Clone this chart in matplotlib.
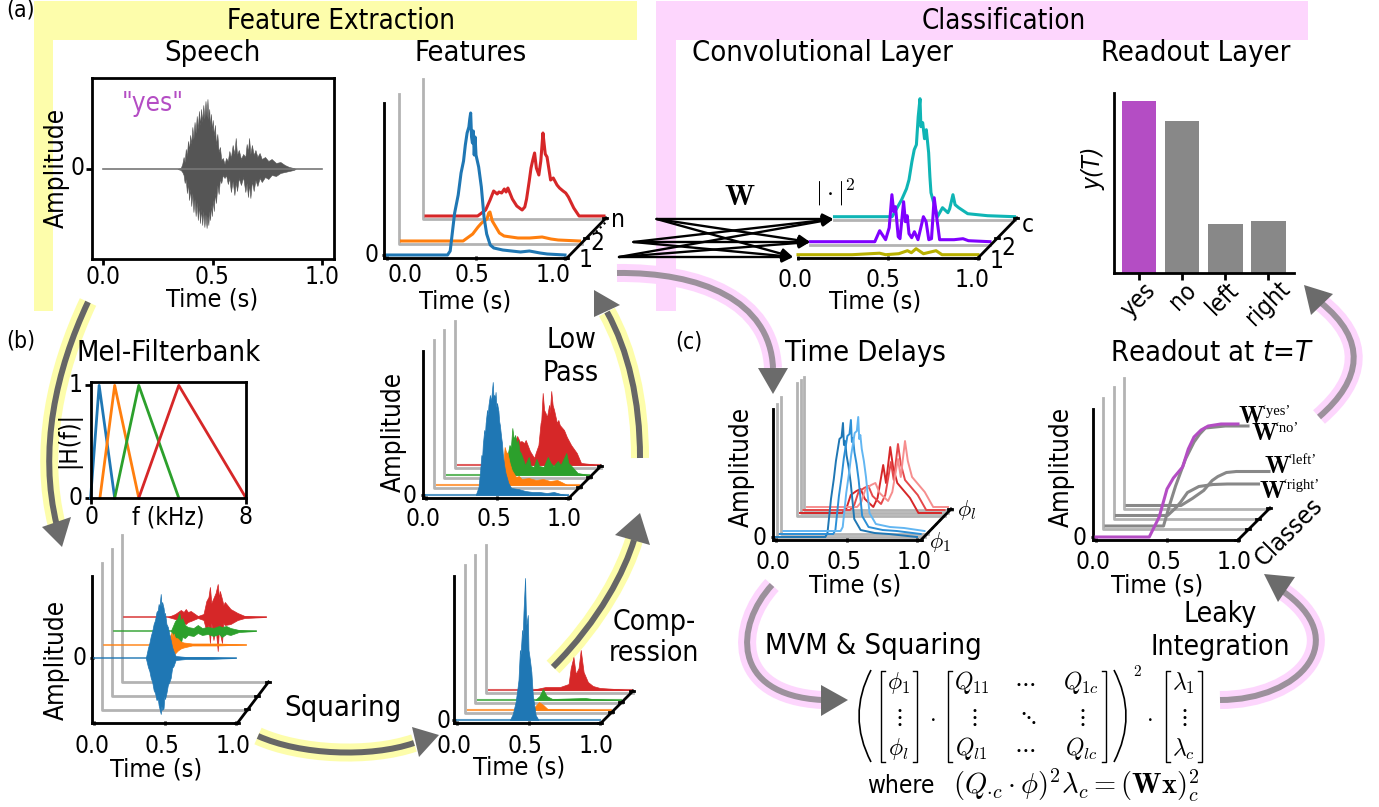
import matplotlib
matplotlib.use('Agg')
import matplotlib.pyplot as plt
import matplotlib.transforms as mtransforms
from matplotlib.patches import PathPatch, Polygon, Rectangle
from matplotlib.path import Path
import numpy as np

plt.rcParams['font.family'] = ['DejaVu Sans']
plt.rcParams['font.stretch'] = 'condensed'

W, H = 1379, 807
BLUE, ORANGE, GREEN, RED = '#1f77b4', '#ff7f0e', '#2ca02c', '#d62728'
YEL, PINK = '#fdfdab', '#fdd6fd'
GREY = '#b3b3b3'
SHAFT_Y, SHAFT_P, HEAD = '#666666', '#9c919c', '#6b6b6b'
PURPLE = '#b44dc4'

# speech waveform envelope: time, upper, lower
speech_env = [(.34,0,0),(.355,1,-1),(.362,5,-3),(.368,12,-6),(.373,7,-14),(.378,20,-10),(.383,13,-24),(.388,28,-14),(.393,19,-31),
              (.398,34,-20),(.403,25,-37),(.408,42,-24),(.413,30,-43),(.418,47,-30),(.423,36,-47),(.428,53,-33),(.433,40,-51),
              (.438,58,-36),(.443,44,-54),(.448,60,-40),(.453,47,-56),(.458,64,-42),(.463,50,-58),(.468,68,-45),(.473,52,-59),
              (.477,70,-47),(.481,50,-56),(.485,60,-42),(.489,42,-51),(.493,55,-36),(.497,38,-47),(.501,49,-31),(.506,33,-42),
              (.511,44,-24),(.516,24,-34),(.522,35,-16),(.528,17,-25),(.534,22,-10),(.54,9,-14),(.547,11,-6),(.555,5,-9),
              (.562,11,-6),(.57,8,-15),(.577,18,-9),(.584,11,-23),(.592,24,-12),(.6,15,-26),(.606,31,-13),(.612,14,-22),
              (.62,19,-9),(.63,10,-16),(.64,15,-8),(.65,12,-23),(.656,25,-14),(.662,17,-28),(.667,31,-15),(.673,15,-29),
              (.68,24,-12),(.688,14,-22),(.696,19,-11),(.705,12,-17),(.715,16,-9),(.725,10,-13),(.74,12,-8),(.755,8,-10),
              (.77,10,-6),(.79,6,-7),(.81,7,-4),(.83,4,-3),(.85,2,-2),(.87,1,-1),(.88,0,0)]

# features (time, height)
feat_blue = [(0,0),(.34,0),(.355,4),(.38,42),(.40,60),(.416,82),(.43,94),(.44,110),(.45,122),(.46,128),(.465,136),(.47,142),(.475,118),
             (.48,112),(.485,124),(.49,100),(.495,118),(.50,100),(.515,88),(.53,68),(.545,38),(.56,21),(.58,10),(.60,7),(.65,5),(.7,4),
             (.75,3),(.8,4),(.86,2),(.9,1),(1,0)]
feat_orange = [(0,0),(.346,0),(.40,7),(.43,14),(.45,18),(.48,22),(.49,28),(.497,29),(.51,20),(.53,14),(.55,8),(.576,5),(.654,3),(.72,3),
               (.79,4),(.84,2),(.88,1),(1,0)]
feat_red = [(0,0),(.29,0),(.335,6),(.36,16),(.38,25),(.40,22),(.41,24),(.425,23),(.44,27),(.45,24),(.46,28),(.485,17),(.51,10),(.54,6),
            (.555,9),(.565,17),(.58,35),(.59,48),(.60,56),(.61,63),(.62,48),(.634,41),(.645,55),(.657,83),(.665,70),(.67,62),(.68,59),
            (.70,36),(.715,38),(.736,31),(.75,28),(.77,25),(.785,23),(.80,19),(.83,8),(.86,0),(1,0)]

# convolution outputs
conv_olive = [(0,0),(.3,0),(.453,1.5),(.487,0),(.56,1),(.608,4),(.63,2),(.656,6),(.697,1),(.767,4),(.80,0),(1,0)]
conv_purple = [(0,0),(.36,0),(.387,11),(.42,2),(.44,14),(.455,47),(.465,30),(.475,35),(.49,5),(.50,3),(.52,40),(.53,20),(.54,26),(.55,8),
               (.565,4),(.58,10),(.60,2),(.63,25),(.645,20),(.66,2),(.675,3),(.69,44),(.72,2),(.80,2),(.85,3),(.88,1),(1,0)]
conv_teal = [(0,0),(.32,0),(.373,17),(.40,28),(.414,37),(.43,55),(.443,67),(.455,72),(.465,100),(.475,118),(.48,90),(.49,94),(.50,78),(.51,87),
             (.523,64),(.53,40),(.536,24),(.572,0),(.60,9),(.63,4),(.64,8),(.658,22),(.67,12),(.69,9),(.74,3),(.85,1),(1,0)]

# readout bars
classes = ['yes', 'no', 'left', 'right']
readout_vals = [172, 152, 49, 52]

# mel filters: start, peak, end in kHz
mel_bands = [(0, .44, 1.24), (.48, 1.24, 2.48), (1.24, 2.48, 4.54), (2.48, 4.54, 8)]

# low pass panel, filled
lp_blue = [(.35,0),(.37,8),(.38,22),(.39,40),(.395,36),(.40,50),(.41,65),(.415,60),(.42,72),(.43,85),(.435,80),(.44,90),(.45,100),(.455,95),
           (.46,97),(.47,113),(.475,98),(.48,100),(.485,96),(.49,103),(.495,88),(.50,92),(.51,84),(.515,74),(.52,70),(.53,57),(.535,52),(.54,42),
           (.55,30),(.56,22),(.58,12),(.60,7),(.65,6),(.7,4),(.75,3),(.8,3),(.85,2),(.9,3),(.95,1),(1,0)]
lp_orange = [(.40,0),(.47,20),(.48,38),(.49,33),(.50,32),(.515,22),(.53,15),(.56,8),(.58,9),(.6,6),(.65,7),(.7,5),(.75,6),(.8,4),(.85,5),(.88,3),(.92,0),(1,0)]
lp_green = [(.40,0),(.44,30),(.45,28),(.46,47),(.47,36),(.48,40),(.49,32),(.50,35),(.51,24),(.52,22),(.55,10),(.575,18),(.59,9),(.61,8),(.63,16),(.65,9),
            (.68,8),(.71,18),(.73,12),(.75,9),(.78,14),(.8,10),(.84,22),(.855,12),(.87,10),(.92,2),(1,0)]
lp_red = [(.35,0),(.38,14),(.40,22),(.42,29),(.44,23),(.45,24),(.47,22),(.48,25),(.51,14),(.54,7),(.55,12),(.57,20),(.585,42),(.59,45),(.60,72),(.61,55),(.62,52),
          (.63,48),(.645,60),(.65,52),(.66,74),(.67,60),(.68,55),(.70,42),(.71,45),(.72,40),(.75,35),(.77,28),(.80,20),(.84,12),(.87,2),(1,0)]

# filterbank outputs: time, upper, lower
fb_blue = [(.365,0,0),(.38,10,-9),(.39,15,-13),(.40,22,-20),(.41,27,-24),(.42,34,-32),(.43,38,-35),(.44,46,-42),(.45,48,-41),(.455,54,-47),(.46,50,-50),
           (.47,64,-56),(.475,52,-48),(.48,56,-52),(.49,50,-50),(.495,44,-38),(.50,45,-41),(.51,34,-35),(.52,31,-27),(.53,24,-24),(.54,18,-20),
           (.55,11,-10),(.56,7,-8),(.575,2,-2),(.65,1,-1),(.8,1,-1),(1,0,0)]
fb_orange = [(.44,0,0),(.475,12,-8),(.485,7,-11),(.49,11,-7),(.50,7,-9),(.52,6,-6),(.54,3,-4),(.56,2,-3),(.62,1,-1),(.8,1,-1),(1,0,0)]
fb_green = [(.40,0,0),(.43,10,-7),(.445,12,-11),(.46,18,-9),(.47,10,-13),(.48,13,-6),(.50,6,-7),(.52,4,-4),(.56,3,-5),(.59,6,-2),(.62,3,-4),(.66,4,-3),(.7,3,-5),(.74,5,-3),
            (.76,4,-6),(.79,5,-3),(.82,3,-4),(.88,1,-1),(1,0,0)]
fb_red = [(.31,0,0),(.36,3,-2),(.40,7,-5),(.42,5,-6),(.435,8,-7),(.45,5,-5),(.47,6,-4),(.52,1,-1),(.56,3,-3),(.58,16,-14),(.595,20,-8),(.605,30,-26),(.615,14,-6),(.63,19,-23),
          (.645,24,-10),(.66,33,-34),(.67,18,-8),(.675,26,-16),(.69,18,-26),(.70,12,-6),(.71,15,-8),(.75,8,-7),(.80,4,-3),(.85,1,-1),(1,0,0)]

# squaring panel, filled
sq_blue = [(.37,0),(.39,6),(.41,18),(.425,34),(.43,40),(.44,70),(.445,66),(.455,90),(.46,85),(.465,108),(.476,142),(.482,104),(.485,95),(.495,105),(.50,70),(.51,60),(.52,48),(.53,25),(.55,5),(.57,0)]
sq_orange = [(.45,0),(.50,8),(.53,5),(.56,1),(1,0)]
sq_green = [(.40,0),(.43,4),(.454,11),(.48,4),(.52,1),(.75,2),(.8,1),(1,0)]
sq_red = [(.30,0),(.40,3),(.50,3),(.56,6),(.575,22),(.594,33),(.61,16),(.63,22),(.645,40),(.665,18),(.695,8),(.73,4),(.78,2),(1,0)]

# time delays
delay_blue = [(0,0),(.35,0),(.365,4),(.39,38),(.41,58),(.425,76),(.45,98),(.465,100),(.475,114),(.482,92),(.49,96),(.50,82),(.515,70),(.53,54),(.555,18),(.60,7),(.7,4),(.8,3),(1,0)]
delay_red = [(0,0),(.30,0),(.33,5),(.36,18),(.40,22),(.43,24),(.46,14),(.52,6),(.55,15),(.59,48),(.61,30),(.64,66),(.66,46),(.69,30),(.72,25),(.78,15),(.84,0),(1,0)]
delay_shift = [0, .03, .055]
blue_shades = [BLUE, '#2c8fd6', '#62b6f2']
red_shades = [RED, '#e5484a', '#f68e8e']

# readout curves
ro_yes = [(0,0),(.375,0),(.445,20),(.50,48),(.545,59),(.61,70),(.65,88),(.69,100),(.74,107),(.79,111),(.88,113),(1,113)]
ro_no = [(0,0),(.405,0),(.45,22),(.49,40),(.56,67),(.62,84),(.66,92),(.70,98),(.84,100),(1,100)]
ro_right = [(0,0),(.36,0),(.42,8),(.45,13),(.50,23),(.58,29),(.68,31),(.78,31.5),(1,31.5)]
ro_left = [(0,0),(.38,0),(.46,7),(.54,15),(.60,25),(.64,29),(.70,33),(.77,34),(1,34)]

fig = plt.figure(figsize=(W/100, H/100), dpi=100)


def px_axes(left, right, top, bottom, z=2):
    ax = fig.add_axes([left/W, 1-bottom/H, (right-left)/W, (bottom-top)/H], zorder=z)
    ax.patch.set_visible(False)
    return ax


bg = px_axes(0, W, 0, H, z=0)
fg = px_axes(0, W, 0, H, z=10)
for a in (bg, fg):
    a.set_xlim(0, W)
    a.set_ylim(H, 0)
    a.axis('off')


def T(x, y, s, size=17, **kw):
    if 'math_fontfamily' not in kw and 'family' not in kw:
        size = size*1.1
    fg.text(x, y, s, ha=kw.pop('ha', 'center'), va=kw.pop('va', 'center'), fontsize=size, **kw)


def swoosh(p0, c1, c2, p3, band, shaft, head):
    path = Path([p0, c1, c2, p3], [Path.MOVETO, Path.CURVE4, Path.CURVE4, Path.CURVE4])
    bg.add_patch(PathPatch(path, fc='none', ec=band, lw=18*.72, capstyle='butt'))
    bg.add_patch(PathPatch(path, fc='none', ec=shaft, lw=6*.72, capstyle='butt'))
    bg.add_patch(Polygon(head, fc=HEAD, ec='none'))


def stack_axes(left, right, top, bottom, t0, k, y0):
    ax = px_axes(left, right, top, bottom)
    ax.set_xlim((left-t0)/k, (right-t0)/k)
    ax.set_ylim(y0-bottom, y0-top)
    for s in ('top', 'right'):
        ax.spines[s].set_visible(False)
    for s in ('left', 'bottom'):
        ax.spines[s].set_linewidth(2)
    ax.set_xticks([0, .5, 1])
    ax.set_yticks([0])
    ax.set_xticklabels([])
    ax.set_yticklabels([])
    ax.tick_params(length=3, width=2, direction='inout')
    return ax


def shift(ax, dx, dy):
    return mtransforms.offset_copy(ax.transData, fig=fig, x=dx, y=dy, units='dots')


def planes(ax, layers, tops):
    x0, x1 = ax.get_xlim()
    floor = ax.get_ylim()[0]
    for (dx, dy), tp in zip(layers, tops):
        ax.plot([x0, x0, x1], [tp, floor, floor], color=GREY, lw=2, transform=shift(ax, dx, dy),
                clip_on=False, zorder=1)


def trace(ax, pts, off, color, lw=2, z=3):
    p = np.array(pts)
    ax.plot(p[:, 0], p[:, 1], color=color, lw=lw, transform=shift(ax, *off), clip_on=False, zorder=z)


def filled(ax, pts, off, color, z=3):
    p = np.array(pts)
    tf = shift(ax, *off)
    ax.fill_between(p[:, 0], 0, p[:, 1], color=color, lw=.5, transform=tf, clip_on=False, zorder=z)
    ax.plot([0, 1], [0, 0], color=color, lw=1.5, alpha=.75, transform=tf, clip_on=False, zorder=z)


def env(ax, pts, off, color, z=3):
    p = np.array(pts)
    tf = shift(ax, *off)
    ax.plot([0, 1], [0, 0], color=color, lw=1.2, alpha=.85, transform=tf, clip_on=False, zorder=z)
    ax.fill_between(p[:, 0], p[:, 2], p[:, 1], color=color, lw=.5, transform=tf, clip_on=False, zorder=z)


def diagonal(x0, y0, x1, y1, n=3):
    fg.plot([x0, x1], [y0, y1], color='k', lw=2)
    for f in np.linspace(0, 1, n):
        fg.plot([x0+(x1-x0)*f-3, x0+(x1-x0)*f+1], [y0+(y1-y0)*f, y0+(y1-y0)*f], color='k', lw=2)


def labels(y, xs, vals=('0.0', '0.5', '1.0'), size=16):
    for x, v in zip(xs, vals):
        T(x, y, v, size)


# header bands
bg.add_patch(Rectangle((34, 1), 603, 39, fc=YEL, ec='none'))
bg.add_patch(Rectangle((34, 1), 19, 310, fc=YEL, ec='none'))
bg.add_patch(Rectangle((656, 1), 652, 39, fc=PINK, ec='none'))
bg.add_patch(Rectangle((656, 1), 20, 310, fc=PINK, ec='none'))

# flow arrows
swoosh((88, 302), (56, 370), (38, 450), (57, 526), YEL, SHAFT_Y, [(42, 527), (71, 517), (62, 547)])
swoosh((640, 458), (640, 400), (628, 350), (607, 312), YEL, SHAFT_Y, [(594, 290), (620, 305), (594, 317)])
swoosh((553, 667), (600, 620), (625, 570), (634, 540), YEL, SHAFT_Y, [(640, 513), (650, 545), (615, 535)])
swoosh((258, 736), (300, 755), (370, 758), (414, 743), YEL, SHAFT_Y, [(439, 735), (412, 727), (419, 757)])
swoosh((617, 273), (700, 272), (770, 300), (773, 368), PINK, SHAFT_P, [(758, 368), (788, 368), (773, 394)])
swoosh((772, 585), (735, 625), (730, 695), (822, 700), PINK, SHAFT_P, [(821, 685), (821, 716), (848, 700)])
swoosh((1220, 700), (1300, 700), (1355, 640), (1281, 590), PINK, SHAFT_P, [(1264, 574), (1295, 577), (1278, 602)])
swoosh((1319, 417), (1362, 380), (1368, 340), (1320, 302), PINK, SHAFT_P, [(1304, 285), (1333, 294), (1311, 315)])

# headings
T(341, 21, 'Feature Extraction', 18)
T(1004, 21, 'Classification', 18)
T(212, 53, 'Speech', 19)
T(471, 53, 'Features', 19)
T(822, 53, 'Convolutional Layer', 19)
T(1196, 53, 'Readout Layer', 19)
T(169, 353, 'Mel-Filterbank', 19)
T(865, 353, 'Time Delays', 19)
T(1212, 353, 'Readout at $t$=$T$', 19)
T(21, 10, '(a)', 15)
T(21, 341, '(b)', 15)
T(689, 342, '(c)', 15)
T(571, 340, 'Low', 18.5)
T(571, 373, 'Pass', 18.5)
T(654, 622, 'Comp-', 18.5)
T(654, 653, 'ression', 18.5)
T(343, 708, 'Squaring', 19)
T(873, 646, 'MVM & Squaring', 19)
T(1220, 614, 'Leaky', 18.5)
T(1220, 647, 'Integration', 18.5)

# speech
ax = px_axes(92, 334, 78, 259)
ax.set_xlim((92-103)/219, (334-103)/219)
ax.set_ylim(169-259, 169-78)
for s in ax.spines.values():
    s.set_linewidth(2)
ax.set_xticks([0, .5, 1])
ax.set_yticks([0])
ax.set_xticklabels([])
ax.set_yticklabels([])
ax.tick_params(length=4, width=2)
ax.plot([0, 1], [0, 0], color='#777777', lw=1.2)
p = np.array(speech_env)
ax.fill_between(p[:, 0], p[:, 2], p[:, 1], color='#555555', lw=.4)
T(153, 104, '"yes"', 17, color=PURPLE)
T(57, 168, 'Amplitude', 17, rotation=90)
T(77, 168, '0', 16)
labels(277, (103, 212, 322))
T(212, 299, 'Time (s)', 16.5)

# features
ax = stack_axes(384, 567, 103, 258, 387, 178, 255)
lay = [(0, 0), (14.5, 14), (39, 39)]
planes(ax, lay, (152, 147, 137))
trace(ax, feat_red, lay[2], RED, 2.2)
trace(ax, feat_orange, lay[1], ORANGE, 2.2)
trace(ax, feat_blue, lay[0], BLUE, 2.2)
ax.spines['left'].set_zorder(5)
diagonal(567, 258, 606, 218)
fg.plot([596, 606], [232, 222], color='k', lw=1.5, ls=':')
T(371, 255, '0', 16)
labels(275, (405, 472, 553))
T(465, 302, 'Time (s)', 16.5)
T(586, 260, '1', 16)
T(597, 243, '2', 16)
T(618, 220, 'n', 16)

# convolutional layer
ax = stack_axes(798, 978, 100, 258, 798, 180, 254.7)
for s in ('left',):
    ax.spines[s].set_visible(False)
ax.set_yticks([])
lay = [(0, 0), (12, 13), (36.5, 38)]
x0, x1 = ax.get_xlim()
for off in lay:
    ax.plot([x0, x1], [-3, -3], color=GREY, lw=2, transform=shift(ax, *off), clip_on=False, zorder=1)
trace(ax, conv_teal, lay[2], '#0fb5b5', 2.2)
trace(ax, conv_purple, lay[1], '#8000ff', 2.2)
trace(ax, conv_olive, lay[0], '#b8b000', 2.2)
diagonal(978, 258, 1017, 218)
for a, b in [(s, e) for s in [(656.6, 219), (633.5, 242), (619, 257)] for e in [(833.5, 219), (810, 242), (793, 257)]]:
    fg.annotate('', xy=b, xytext=a, xycoords='data', textcoords='data',
                arrowprops=dict(arrowstyle='-|>', lw=1.7, color='k', mutation_scale=16, shrinkA=0, shrinkB=0))
T(740, 197, r'$\mathbf{W}$', 21, math_fontfamily='cm')
T(835, 193, r'$|\cdot|^2$', 18, math_fontfamily='cm')
labels(280, (795, 883, 972))
T(875, 302, 'Time (s)', 16.5)
T(997, 261, '1', 16)
T(1008, 248, '2', 16)
T(1028, 225, 'c', 16)

# readout layer
ax = px_axes(1114, 1294, 93, 273)
ax.set_xlim(-.58, 3.6)
ax.set_ylim(0, 180)
pos = np.arange(len(classes))
ax.bar(pos, readout_vals, width=.81, color=[PURPLE, '#888888', '#888888', '#888888'])
for s in ('top', 'right'):
    ax.spines[s].set_visible(False)
for s in ('left', 'bottom'):
    ax.spines[s].set_linewidth(2)
ax.set_xticks(pos)
ax.set_xticklabels([])
ax.set_yticks([])
ax.tick_params(length=5, width=2)
for x, y, c in zip((1138, 1183, 1223, 1268), (300, 296, 298, 303), classes):
    T(x, y, c, 16, rotation=45)
T(1094, 168, 'y(T)', 16, rotation=90, style='italic')

# mel filterbank
ax = px_axes(90.6, 246, 382, 498)
ax.set_xlim(0, 8)
ax.set_ylim(0, 1.03)
for band, c in zip(mel_bands, (BLUE, ORANGE, GREEN, RED)):
    ax.plot(band, [0, 1, 0], color=c, lw=2, clip_on=False)
for s in ax.spines.values():
    s.set_linewidth(2)
ax.set_xticks([0, 8])
ax.set_yticks([0, 1])
ax.set_xticklabels([])
ax.set_yticklabels([])
ax.tick_params(length=4, width=2)
T(75.5, 385, '1', 16)
T(75.5, 498, '0', 16)
T(91, 517, '0', 16)
T(168, 517, 'f (kHz)', 16)
T(246, 517, '8', 16)
T(69, 440, '|H(f)|', 16, rotation=90)

# low pass
ax = stack_axes(423, 569, 351, 498, 426, 142, 495)
lay = [(0, 0), (10.5, 10), (21, 20), (31.5, 30)]
planes(ax, lay, (144, 145, 145, 144))
filled(ax, lp_red, lay[3], RED)
filled(ax, lp_green, lay[2], GREEN)
filled(ax, lp_orange, lay[1], ORANGE)
filled(ax, lp_blue, lay[0], BLUE)
diagonal(569, 498, 601, 466, 4)
T(394, 432, 'Amplitude', 17, rotation=90)
T(410, 496, '0', 16)
labels(519, (423, 494, 564))

# filterbank outputs
ax = stack_axes(92, 237.5, 576, 723, 94, 142, 658)
lay = [(0, 0), (10, 13.5), (20, 27), (30, 41)]
planes(ax, lay, (82, 82, 82, 82))
env(ax, fb_red, lay[3], RED)
env(ax, fb_green, lay[2], GREEN)
env(ax, fb_orange, lay[1], ORANGE)
env(ax, fb_blue, lay[0], BLUE)
diagonal(237.5, 723, 268.5, 682, 4)
T(57, 660, 'Amplitude', 17, rotation=90)
T(79, 658, '0', 16)
labels(746, (92, 162, 233))
T(156, 769, 'Time (s)', 16.5)

# squaring
ax = stack_axes(454, 601, 576, 723, 457, 143, 720)
lay = [(0, 0), (10.5, 10), (21, 20), (31.5, 30)]
planes(ax, lay, (144, 145, 145, 145))
filled(ax, sq_red, lay[3], RED)
filled(ax, sq_green, lay[2], GREEN)
filled(ax, sq_orange, lay[1], ORANGE)
filled(ax, sq_blue, lay[0], BLUE)
diagonal(601, 723, 633, 691, 4)
T(443, 721, '0', 16)
labels(746, (454, 525, 596))
T(519, 767, 'Time (s)', 16.5)

# time delays
ax = stack_axes(773, 921, 409, 540, 776, 141, 537)
lay = [(0, 0), (3.7, 3), (7.5, 6), (24, 24), (27.5, 27), (31, 30)]
planes(ax, lay, (128, 130, 134, 130, 130, 130))
for i in range(3):
    off = lay[i+3]
    p = np.array(delay_red)
    shifted = np.column_stack((np.minimum(p[:, 0]+delay_shift[i]*(p[:, 0] > 0)*(p[:, 0] < 1), 1), p[:, 1]))
    trace(ax, shifted, off, red_shades[i], 1.4)
for i in range(3):
    off = lay[i]
    p = np.array(delay_blue)
    shifted = np.column_stack((np.minimum(p[:, 0]+delay_shift[i]*(p[:, 0] > 0)*(p[:, 0] < 1), 1), p[:, 1]))
    trace(ax, shifted, off, blue_shades[i], 1.4)
diagonal(921, 540, 951, 509, 2)
fg.plot([928, 944], [533, 516], color='k', lw=1.5, ls=':')
T(742, 467, 'Amplitude', 17, rotation=90)
T(760, 538, '0', 16)
labels(562, (773, 844, 914.5))
T(855.5, 585, 'Time (s)', 16.5)
T(967, 510, r'$\phi_l$', 16, math_fontfamily='cm')
T(940, 542, r'$\phi_1$', 16, math_fontfamily='cm')

# readout at t=T
ax = stack_axes(1093, 1238, 409, 540, 1096, 142, 537)
lay = [(0, 0), (10, 11), (20.5, 21.5), (31, 31.5)]
planes(ax, lay, (128, 128, 128, 128))
trace(ax, ro_left, lay[3], '#888888', 2.2)
trace(ax, ro_right, lay[2], '#888888', 2.2)
trace(ax, ro_no, lay[1], '#888888', 2.2)
trace(ax, ro_yes, lay[0], PURPLE, 2.2)
diagonal(1238, 540, 1270, 508, 4)
T(1062, 467, 'Amplitude', 17, rotation=90)
T(1080, 538, '0', 16)
labels(562, (1093, 1163.5, 1234))
T(1157, 585, 'Time (s)', 16.5)
T(1288.5, 531.5, 'Classes', 16.5, rotation=45)
for x, y, s in [(1238, 416, 'yes'), (1251, 433, 'no'), (1263.5, 466, 'left'), (1259, 491, 'right')]:
    T(x, y, r'$\mathbf{W}$', 18, ha='left', math_fontfamily='cm')
    T(x+24, y-5, '\u2018' + s + '\u2019', 10.5, ha='left', family='Liberation Serif')


# formula
def bracket(x0, x1, y0=671, y1=762):
    fg.plot([x0+4, x0, x0, x0+4], [y0, y0, y1, y1], color='k', lw=1)
    fg.plot([x1-4, x1, x1, x1-4], [y0, y0, y1, y1], color='k', lw=1)


bracket(880.5, 917)
bracket(948, 1105.5)
bracket(1166, 1202)
for pts in ([(871, 670), (847, 716), (871, 762)], [(1114, 670), (1138, 716), (1114, 762)]):
    fg.add_patch(PathPatch(Path(pts, [Path.MOVETO, Path.CURVE3, Path.CURVE3]), fc='none', ec='k', lw=1.2))
cells = [(898, 683, r'\phi_1'), (898, 717, r'\vdots'), (898, 749, r'\phi_l'),
         (971.5, 683, r'Q_{11}'), (1025, 683, r'\cdots'), (1081, 683, r'Q_{1c}'),
         (972.5, 717, r'\vdots'), (1027, 717, r'\ddots'), (1081, 717, r'\vdots'),
         (971.5, 749, r'Q_{l1}'), (1025, 749, r'\cdots'), (1081, 749, r'Q_{lc}'),
         (1183, 683, r'\lambda_1'), (1183, 717, r'\vdots'), (1183, 749, r'\lambda_c'),
         (932.5, 717, r'\cdot'), (1149.5, 717, r'\cdot')]
for x, y, s in cells:
    T(x, y, '$'+s+'$', 17, math_fontfamily='cm')
T(1137, 671, '$2$', 11, math_fontfamily='cm')
T(901, 786, 'where', 16)
T(1076, 786, r'$(Q_{\cdot c}\cdot\phi)^2\lambda_c=(\mathbf{Wx})_c^2$', 20.5, math_fontfamily='cm')

fig.savefig('out.png', dpi=100)
